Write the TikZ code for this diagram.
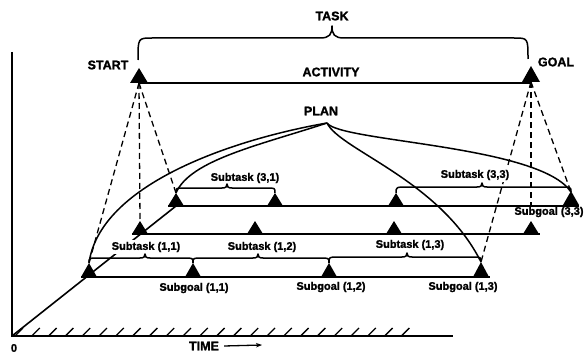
\documentclass[tikz,border=0pt]{standalone}
\usepackage{fontspec}
\setmainfont{Liberation Sans}[BoldFeatures={FakeBold=1.5}]
\usetikzlibrary{arrows.meta}
% triangle: name, x, y (base centre), half width, height
\newcommand\mytri[5]{%
  \coordinate (#1) at (#2,#3);
  \coordinate (#1a) at (#2,#3-#5);
  \fill (#2-#4,#3) -- (#2,#3-#5) -- (#2+#4,#3) -- cycle;}
% brace: x1 ya1 x2 ya2 yh xt r w h
\newcommand\mybrace[9]{%
  \draw[bline] (#1,#2) .. controls (#1,#5) .. (#1+#7,#5) -- (#6-#8,#5)
    .. controls (#6-0.2*#8,#5) and (#6,#5-0.3*#9) .. (#6,#5-#9)
    .. controls (#6,#5-0.3*#9) and (#6+0.2*#8,#5) .. (#6+#8,#5)
    -- (#3-#7,#5) .. controls (#3,#5) .. (#3,#4);}
\begin{document}
\begin{tikzpicture}[x=1pt,y=-1pt,
  big/.style={font=\fontsize{12.5}{14}\selectfont\bfseries, inner sep=1pt},
  small/.style={font=\fontsize{11}{12}\selectfont\bfseries, fill=white, inner sep=1.5pt},
  pline/.style={line width=2.3pt},
  bline/.style={line width=1.5pt, line join=round},
  dashline/.style={line width=1.3pt, dash pattern=on 6pt off 4pt},
  curve/.style={line width=1.5pt},
  axis/.style={line width=2.2pt},
  hatch/.style={line width=1.3pt}]
\useasboundingbox (0,0) rectangle (584,353);
\fill[white] (0,0) rectangle (584,353);

% named reference points
\coordinate (O) at (12,336);
\coordinate (ytop) at (12,52);
\coordinate (xend) at (453,336);
\coordinate (plan) at (327,123);
\coordinate (st) at (139,83);
\coordinate (gl) at (531,82);
\coordinate (t1) at (176,206);
\coordinate (t1a) at (176,193);
\coordinate (t4a) at (571,192);
\coordinate (m1a) at (140,221);
\coordinate (m4a) at (531,221);
\coordinate (b1a) at (89,263);
\coordinate (b4a) at (481,262);

% axes
\draw[axis] (ytop) -- (O) -- (xend);
\foreach \i in {0,...,23} \draw[hatch] (15+16.8*\i,336) -- ++(8,-8);
\draw[line width=1.6pt] (O) -- (t1);

% dashed projections
\draw[dashline] (st) -- (b1a);
\draw[dashline] (st) -- (m1a);
\draw[dashline] (st) -- (t1a);
\draw[dashline] (gl) -- (b4a);
\draw[dashline] (gl) -- (m4a);
\draw[dashline] (gl) -- (t4a);

% labels
\node[big] (lstart) at (108,65) {START};
\node[big] (lgoal) at (556,62) {GOAL};
\node[big] (ltask) at (332,16) {TASK};
\node[big] (lact) at (331,72) {ACTIVITY};
\node[big] (lplan) at (321,111) {PLAN};
\node[small] (s31) at (245,178) {Subtask (3,1)};
\node[small] (s33) at (475,175) {Subtask (3,3)};
\node[small] (g33) at (549,212) {Subgoal (3,3)};
\node[small] (s11) at (146,247) {Subtask (1,1)};
\node[small] (s12) at (262,247) {Subtask (1,2)};
\node[small] (s13) at (410,245) {Subtask (1,3)};
\node[small] (g11) at (194,288) {Subgoal (1,1)};
\node[small] (g12) at (331,287) {Subgoal (1,2)};
\node[small] (g13) at (463,287) {Subgoal (1,3)};
\node[font=\fontsize{11}{12}\selectfont\bfseries, inner sep=0pt] (zero) at (14,348) {0};
\node[big] (ltime) at (204,346) {TIME};
\coordinate (tarr) at (262,345);
\draw[line width=1.3pt, -{Stealth[length=6pt,width=4.5pt]}] (ltime.east) ++(4,0) -- (tarr);

% plane lines
\draw[line width=2.6pt] (st) -- (gl |- st);
\draw[pline] (168,206) -- (579,206);
\draw[pline] (132,234) -- (540,234);
\draw[pline] (81,277) -- (490,277);

% triangles
\mytri{tst}{139}{83}{9}{15}
\mytri{tgl}{531}{82}{9}{16}
\mytri{tt1}{176}{206}{8}{13}
\mytri{tt2}{275}{206}{8}{13}
\mytri{tt3}{396}{206}{8}{13}
\mytri{tt4}{571}{205}{8}{14}
\mytri{tm1}{140}{234}{8}{13}
\mytri{tm2}{255}{234}{8}{13}
\mytri{tm3}{394}{234}{8}{13}
\mytri{tm4}{531}{234}{8}{13}
\mytri{tb1}{89}{277}{8}{14}
\mytri{tb2}{193}{277}{8}{14}
\mytri{tb3}{329}{277}{8}{14}
\mytri{tb4}{481}{277}{8}{15}

% braces
\mybrace{138}{60}{528}{59}{38}{332}{14}{12}{12}
\mybrace{176}{193}{275}{193}{188}{227}{8}{5}{4}
\mybrace{396}{193}{571}{192}{187}{482}{12}{5}{4}
\mybrace{89}{263}{193}{263}{258}{145}{9}{5}{4}
\mybrace{193}{263}{329}{263}{258}{258}{9}{5}{4}
\mybrace{329}{263}{481}{262}{257}{407}{9}{5}{4}

% plan curves
\draw[curve] (plan) .. controls (230,140) and (100,185) .. (b1a);
\draw[curve] (plan) .. controls (260,145) and (190,160) .. (t1a);
\draw[curve] (plan) .. controls (340,142) and (540,145) .. (t4a);
\draw[curve] (plan) .. controls (340,150) and (440,180) .. (b4a);
\end{tikzpicture}
\end{document}
